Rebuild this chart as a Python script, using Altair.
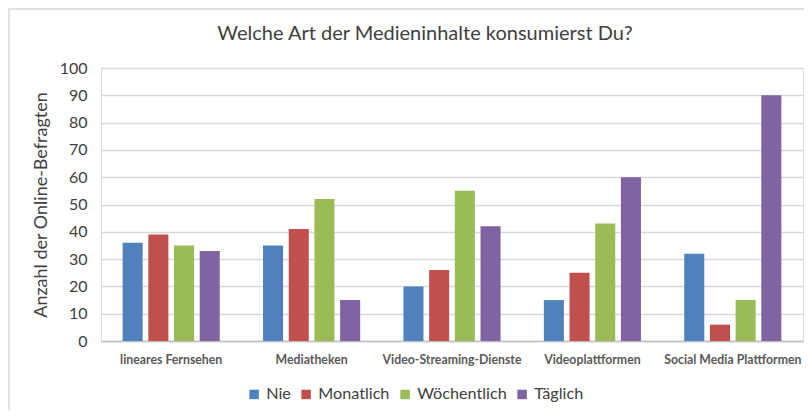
import altair as alt
import pandas as pd

categories = ["lineares Fernsehen", "Mediatheken", "Video-Streaming-Dienste",
              "Videoplattformen", "Social Media Plattformen"]
series = ["Nie", "Monatlich", "Wöchentlich", "Täglich"]
nie = [36, 35, 20, 15, 32]
monatlich = [39, 41, 26, 25, 6]
woechentlich = [35, 52, 55, 43, 15]
taeglich = [33, 15, 42, 60, 90]
colors = ["#4F81BD", "#C0504D", "#9BBB59", "#8064A2"]

rows = []
for s, vals in zip(series, [nie, monatlich, woechentlich, taeglich]):
    for c, v in zip(categories, vals):
        rows.append({"Kategorie": c, "Häufigkeit": s, "Anzahl": v})
df = pd.DataFrame(rows)

W, H = 702, 273
FONT = "Lato"

bars = alt.Chart(df).mark_bar().encode(
    x=alt.X("Kategorie:N", sort=categories,
            scale=alt.Scale(paddingInner=0.268, paddingOuter=0.134),
            axis=alt.Axis(title=None, labelAngle=0, labelFont=FONT, labelFontSize=12.3,
                          labelFontWeight="bold", labelColor="#595959", labelPadding=12,
                          ticks=False, domain=True, domainColor="#BFBFBF", domainWidth=1.5,
                          grid=False)),
    xOffset=alt.XOffset("Häufigkeit:N", sort=series,
                        scale=alt.Scale(paddingInner=0.22, paddingOuter=0.11)),
    y=alt.Y("Anzahl:Q", scale=alt.Scale(domain=[0, 100]),
            axis=alt.Axis(title="Anzahl der Online-Befragten", values=list(range(0, 101, 10)),
                          titleFont=FONT, titleFontSize=18, titleFontWeight="normal",
                          titleColor="#404040", titlePadding=9,
                          labelFont=FONT, labelFontSize=16, labelColor="#404040",
                          labelPadding=14, ticks=False, domain=False,
                          grid=True, gridColor="#D9D9D9", gridWidth=1.5)),
    color=alt.Color("Häufigkeit:N", sort=series,
                    scale=alt.Scale(domain=series, range=colors),
                    legend=alt.Legend(title=None, orient="none", direction="horizontal",
                                      legendX=145, legendY=318,
                                      symbolType="square", symbolSize=90,
                                      symbolStrokeWidth=0, symbolOpacity=1,
                                      labelFont=FONT, labelFontSize=16.2,
                                      labelColor="#404040", columnPadding=7,
                                      labelOffset=4)),
)

frame = alt.Chart(pd.DataFrame({"k": [0]})).mark_rect(
    fill=None, stroke="#D9D9D9", strokeWidth=1.5
).encode(
    x=alt.value(-92), x2=alt.value(W + 40),
    y=alt.value(-59), y2=alt.value(H + 100),
)

chart = alt.layer(frame, bars).properties(
    width=W, height=H,
    autosize=alt.AutoSizeParams(type="none"),
    padding={"left": 93, "top": 60, "right": 1, "bottom": 69},
    title=alt.Title("Welche Art der Medieninhalte konsumierst Du?", font=FONT,
                    fontSize=20, fontWeight="normal", color="#404040",
                    anchor="middle", dx=-27, dy=36, offset=0),
).configure_view(stroke=None).configure(background="white")

chart.save("out.html", embed_options={"renderer": "svg", "actions": False})
